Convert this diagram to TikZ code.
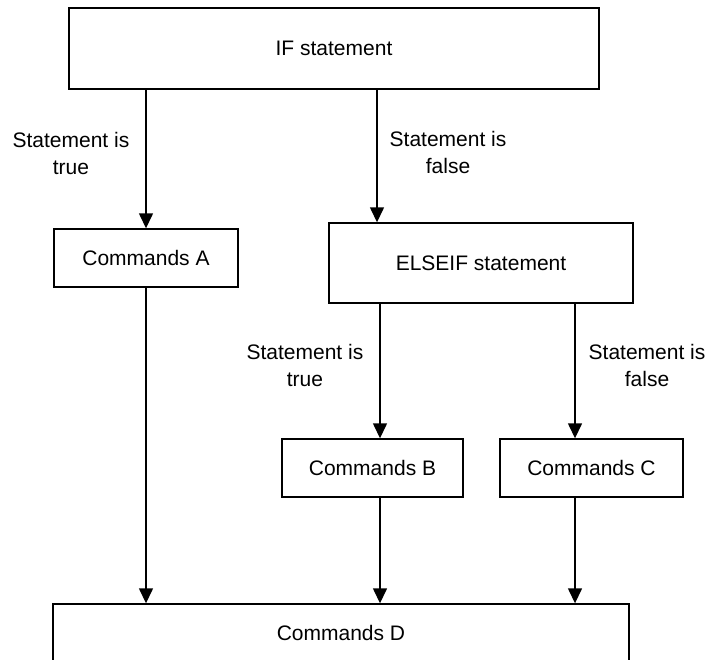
\documentclass[tikz,border=0pt]{standalone}
\usepackage{fontspec}
\setmainfont{Liberation Sans}
\usetikzlibrary{arrows.meta}

\begin{document}
\begin{tikzpicture}[x=1pt,y=-1pt,>={Triangle[width=14pt,length=15pt]},line width=1.4pt,
		block/.style={rectangle, draw, inner sep=0pt, font=\fontsize{21}{27}\selectfont},
		cond/.style={align=center, inner sep=0pt, font=\fontsize{21}{27}\selectfont}]
				\useasboundingbox (0,0) rectangle (706,659);

				\node[block, minimum width=530pt, minimum height=81pt] (IF)     at (334,48.5)  {IF statement};
				\node[block, minimum width=184pt, minimum height=58pt] (A)      at (146,258)   {Commands A};
				\node[block, minimum width=304pt, minimum height=80pt] (ELSEIF) at (481,263)   {ELSEIF statement};
				\node[block, minimum width=181pt, minimum height=58pt] (B)      at (372.5,468) {Commands B};
				\node[block, minimum width=183pt, minimum height=58pt] (C)      at (591.5,468) {Commands C};
				\node[block, minimum width=576pt, minimum height=58pt] (D)      at (341,633)   {Commands D};

				\coordinate (colE) at (377,0);
				\coordinate (colB) at (380,0);
				\coordinate (colC) at (575,0);

				\path[->] (IF.south -| A.north)    edge node[cond, left=16pt, pos=0.46]  {Statement is\\true}  (A.north)
						  (IF.south -| colE)       edge node[cond, right=12pt, pos=0.47] {Statement is\\false} (ELSEIF.north -| colE)
						  (ELSEIF.south -| colB)   edge node[cond, left=16pt, pos=0.46]  {Statement is\\true}  (B.north -| colB)
						  (ELSEIF.south -| colC)   edge node[cond, right=13pt, pos=0.46] {Statement is\\false} (C.north -| colC)
						  (A.south)                edge (D.north -| A.south)
						  (B.south -| colB)        edge (D.north -| colB)
						  (C.south -| colC)        edge (D.north -| colC);

			\end{tikzpicture}
\end{document}
